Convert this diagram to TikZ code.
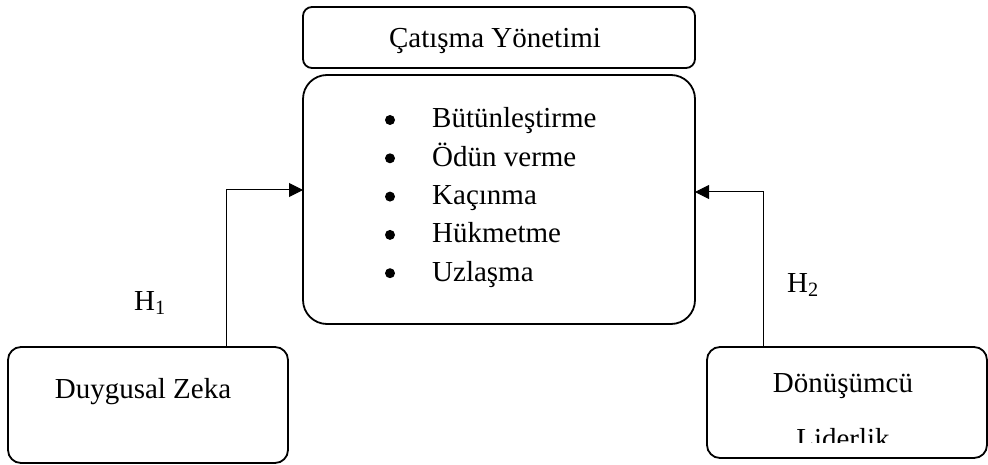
\documentclass[tikz,border=0pt]{standalone}
\usepackage{fontspec}
\setmainfont{Liberation Serif}
\usetikzlibrary{arrows.meta}
\begin{document}
\begin{tikzpicture}[x=1pt,y=-1pt,
  box/.style={draw,line width=1.8pt},
  lbl/.style={font=\fontsize{29}{33}\selectfont,inner sep=0pt,anchor=base},
  bul/.style={circle,fill,inner sep=0pt,minimum size=10pt},
  conn/.style={line width=1pt},
  arr/.style={conn,-{Triangle[length=14pt,width=14pt]}}]
\useasboundingbox (0,0) rectangle (988,465);
% boxes
\draw[box,rounded corners=9pt] (303,7) rectangle (695,68);
\node[lbl] (title) at (495,48) {Çatışma Yönetimi};
\draw[box,rounded corners=24pt] (303,75) rectangle (695,324);
\coordinate (mainW) at (303,190);
\coordinate (mainE) at (695,192);
\foreach \t [count=\i] in {Bütünleştirme,Ödün verme,Kaçınma,Hükmetme,Uzlaşma}{
  \node[bul] (b\i) at (390,{120+38.3*(\i-1)}) {};
  \node[lbl,anchor=base west] (t\i) at (432,{128+38.3*(\i-1)}) {\t};
}
\draw[box,rounded corners=13pt] (8,347) rectangle (288,463);
\node[lbl] (dz) at (143,398) {Duygusal Zeka};
\draw[box,rounded corners=13pt] (707,347) rectangle (987,458);
\node[lbl] (dl1) at (843,392) {Dönüşümcü};
\begin{scope}
  \clip (707,400) rectangle (987,442);
  \node[lbl] (dl2) at (843,448) {Liderlik};
\end{scope}
% connectors
\coordinate (lstart) at (148,346.5);
\coordinate (lcorner) at (226,346.5);
\draw[line width=1.8pt] (lstart) -- (lcorner);
\draw[arr] (lcorner) -- (226,190) -- (mainW);
\coordinate (rstart) at (763,347);
\draw[arr] (rstart) -- (763,192) -- (mainE);
\node[lbl] (h1) at (150,310) {H\textsubscript{1}};
\node[lbl] (h2) at (803,292) {H\textsubscript{2}};
\end{tikzpicture}
\end{document}
